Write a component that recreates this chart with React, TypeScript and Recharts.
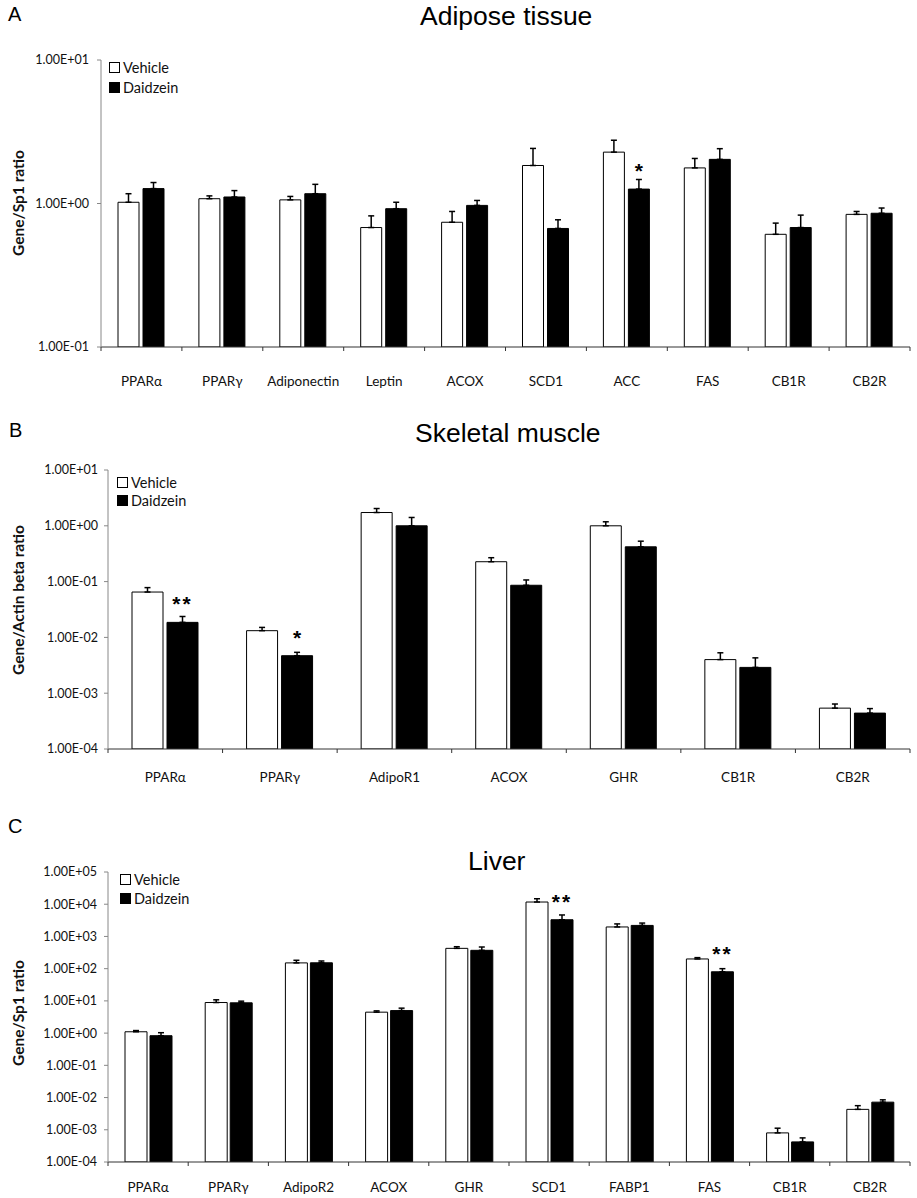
import React from 'react';
import { BarChart, Bar, XAxis, YAxis, ErrorBar, LabelList } from 'recharts';

// Panel A - adipose tissue
const adiposeGenes = ['PPARα', 'PPARγ', 'Adiponectin', 'Leptin', 'ACOX', 'SCD1', 'ACC', 'FAS', 'CB1R', 'CB2R'];
const adiposeVehicle = [1.02, 1.08, 1.06, 0.68, 0.74, 1.84, 2.28, 1.77, 0.61, 0.84];
const adiposeVehicleSem = [0.15, 0.05, 0.06, 0.14, 0.14, 0.58, 0.48, 0.29, 0.12, 0.04];
const adiposeDaidzein = [1.27, 1.11, 1.17, 0.92, 0.97, 0.67, 1.26, 2.03, 0.68, 0.855];
const adiposeDaidzeinSem = [0.13, 0.12, 0.19, 0.1, 0.08, 0.1, 0.21, 0.38, 0.15, 0.075];
const adiposeSig = ['', '', '', '', '', '', '*', '', '', ''];
const adiposeTicks = [0.1, 1, 10];

// Panel B - skeletal muscle
const muscleGenes = ['PPARα', 'PPARγ', 'AdipoR1', 'ACOX', 'GHR', 'CB1R', 'CB2R'];
const muscleVehicle = [0.065, 0.0132, 1.73, 0.227, 1.0, 0.004, 0.00054];
const muscleVehicleSem = [0.013, 0.0019, 0.31, 0.041, 0.18, 0.0013, 0.0001];
const muscleDaidzein = [0.0186, 0.0047, 1.0, 0.086, 0.42, 0.0029, 0.00044];
const muscleDaidzeinSem = [0.0051, 0.0007, 0.41, 0.021, 0.11, 0.0014, 0.00009];
const muscleSig = ['**', '*', '', '', '', '', ''];
const muscleTicks = [0.0001, 0.001, 0.01, 0.1, 1, 10];

// Panel C - liver
const liverGenes = ['PPARα', 'PPARγ', 'AdipoR2', 'ACOX', 'GHR', 'SCD1', 'FABP1', 'FAS', 'CB1R', 'CB2R'];
const liverVehicle = [1.1, 8.9, 151, 4.47, 427, 11700, 1970, 200, 0.0008, 0.0043];
const liverVehicleSem = [0.1, 1.9, 31, 0.43, 53, 3100, 480, 20, 0.00032, 0.0013];
const liverDaidzein = [0.83, 8.7, 152, 5.0, 371, 3300, 2200, 80, 0.00042, 0.0072];
const liverDaidzeinSem = [0.2, 1.1, 21, 0.95, 99, 1340, 400, 20, 0.00014, 0.0013];
const liverSig = ['', '', '', '', '', '**', '', '**', '', ''];
const liverTicks = [0.0001, 0.001, 0.01, 0.1, 1, 10, 100, 1000, 10000, 100000];

const W = 917;
const TICK_FONT = 'Lato, "Open Sans", sans-serif';
const TITLE_FONT = '"Liberation Sans", Arial, sans-serif';

const sci = (v: number) => {
  const e = Math.round(Math.log10(v));
  return `1.00E${e < 0 ? '-' : '+'}${String(Math.abs(e)).padStart(2, '0')}`;
};

const buildRows = (genes: string[], veh: number[], vehSem: number[], dai: number[], daiSem: number[], sig: string[]) =>
  genes.map((g, i) => ({
    gene: g,
    vehicle: veh[i],
    vehicleErr: [0, vehSem[i]],
    daidzein: dai[i],
    daidzeinErr: [0, daiSem[i]],
    sig: sig[i],
  }));

const makeXTick = (n: number, plotW: number, labelDy: number) => (props: any) => {
  const { x, y, payload, index } = props;
  const half = plotW / n / 2;
  return (
    <g>
      {index === 0 && <line x1={x - half} x2={x - half} y1={y} y2={y + 4} stroke="#333" />}
      <line x1={x + half} x2={x + half} y1={y} y2={y + 4} stroke="#333" />
      <text x={x} y={y + labelDy} textAnchor="middle" dominantBaseline="central" fontSize={13.5} fontFamily={TICK_FONT} fill="#111">
        {payload.value}
      </text>
    </g>
  );
};

const StarLabel = (props: any) => {
  const { x, y, width, value } = props;
  if (!value) return null;
  return (
    <text x={x + width / 2} y={y - 11} textAnchor="middle" fontSize={21} fontWeight="bold" fontFamily={TITLE_FONT} letterSpacing={value.length > 1 ? 2 : 0} fill="#000">
      {value}
    </text>
  );
};

interface PanelProps {
  top: number;
  height: number;
  margin: { top: number; right: number; bottom: number; left: number };
  xAxisHeight: number;
  labelDy: number;
  genes: string[];
  rows: any[];
  ticks: number[];
  barSize: number;
  barGap: number;
  yTickMargin: number;
}

function Panel({ top, height, margin, xAxisHeight, labelDy, genes, rows, ticks, barSize, barGap, yTickMargin }: PanelProps) {
  const yAxisW = 60;
  const plotW = W - margin.left - yAxisW - margin.right;
  return (
    <div style={{ position: 'absolute', left: 0, top }}>
      <BarChart width={W} height={height} data={rows} margin={margin} barSize={barSize} barGap={barGap}>
        <XAxis
          dataKey="gene"
          interval={0}
          height={xAxisHeight}
          tickSize={0}
          tickMargin={0}
          axisLine={{ stroke: '#333' }}
          tick={makeXTick(genes.length, plotW, labelDy)}
        />
        <YAxis
          type="number"
          scale="log"
          domain={[ticks[0], ticks[ticks.length - 1]]}
          ticks={ticks}
          allowDataOverflow
          width={yAxisW}
          tickFormatter={sci}
          tickSize={4}
          tickMargin={yTickMargin}
          axisLine={{ stroke: '#888' }}
          tickLine={{ stroke: '#888' }}
          tick={{ fontSize: 12.5, fontFamily: TICK_FONT, fill: '#111' }}
        />
        <Bar dataKey="vehicle" fill="#fff" stroke="#000" strokeWidth={1} isAnimationActive={false}>
          <ErrorBar dataKey="vehicleErr" direction="y" width={3} stroke="#000" strokeWidth={1.5} />
        </Bar>
        <Bar dataKey="daidzein" fill="#000" stroke="#000" strokeWidth={1} isAnimationActive={false}>
          <ErrorBar dataKey="daidzeinErr" direction="y" width={3} stroke="#000" strokeWidth={1.5} />
          <LabelList dataKey="sig" content={StarLabel} />
        </Bar>
      </BarChart>
    </div>
  );
}

function LegendBox({ left, top, gap }: { left: number; top: number; gap: number }) {
  const item = (label: string, fill: string, y: number) => (
    <div style={{ position: 'absolute', left, top: y, display: 'flex', alignItems: 'center', height: 16 }}>
      <div style={{ width: 9, height: 9, border: '1px solid #000', background: fill, marginRight: 3 }} />
      <span style={{ fontFamily: TICK_FONT, fontSize: 14.5, color: '#111' }}>{label}</span>
    </div>
  );
  return (
    <>
      {item('Vehicle', '#fff', top)}
      {item('Daidzein', '#000', top + gap)}
    </>
  );
}

const letterStyle: React.CSSProperties = { position: 'absolute', fontFamily: TITLE_FONT, fontSize: 20, lineHeight: '20px', color: '#000' };
const titleStyle: React.CSSProperties = { position: 'absolute', fontFamily: TITLE_FONT, fontSize: 26.5, lineHeight: '30px', color: '#000', whiteSpace: 'nowrap' };

function YTitle({ text, cx, cy }: { text: string; cx: number; cy: number }) {
  return (
    <div
      style={{
        position: 'absolute',
        left: cx,
        top: cy,
        transform: 'translate(-50%, -50%) rotate(-90deg)',
        fontFamily: TICK_FONT,
        fontWeight: 'bold',
        fontSize: 15.5,
        whiteSpace: 'nowrap',
        color: '#111',
      }}
    >
      {text}
    </div>
  );
}

export default function App() {
  const adiposeRows = buildRows(adiposeGenes, adiposeVehicle, adiposeVehicleSem, adiposeDaidzein, adiposeDaidzeinSem, adiposeSig);
  const muscleRows = buildRows(muscleGenes, muscleVehicle, muscleVehicleSem, muscleDaidzein, muscleDaidzeinSem, muscleSig);
  const liverRows = buildRows(liverGenes, liverVehicle, liverVehicleSem, liverDaidzein, liverDaidzeinSem, liverSig);

  return (
    <div style={{ position: 'absolute', left: 0, top: 0, width: W, height: 1198, background: '#fff', overflow: 'hidden' }}>
      <Panel
        top={0}
        height={400}
        margin={{ top: 60, right: 7, bottom: 13, left: 41 }}
        xAxisHeight={40}
        labelDy={34}
        genes={adiposeGenes}
        rows={adiposeRows}
        ticks={adiposeTicks}
        barSize={21}
        barGap={4}
        yTickMargin={8}
      />
      <Panel
        top={400}
        height={420}
        margin={{ top: 70, right: 7, bottom: 31, left: 48 }}
        xAxisHeight={40}
        labelDy={28}
        genes={muscleGenes}
        rows={muscleRows}
        ticks={muscleTicks}
        barSize={31}
        barGap={4}
        yTickMargin={6}
      />
      <Panel
        top={820}
        height={378}
        margin={{ top: 52, right: 7, bottom: 5, left: 48 }}
        xAxisHeight={31}
        labelDy={25}
        genes={liverGenes}
        rows={liverRows}
        ticks={liverTicks}
        barSize={22}
        barGap={3}
        yTickMargin={7}
      />

      <div style={{ ...letterStyle, left: 8, top: 4 }}>A</div>
      <div style={{ ...letterStyle, left: 9, top: 420 }}>B</div>
      <div style={{ ...letterStyle, left: 8, top: 816 }}>C</div>

      <div style={{ ...titleStyle, left: 420, top: 1 }}>Adipose tissue</div>
      <div style={{ ...titleStyle, left: 415, top: 418 }}>Skeletal muscle</div>
      <div style={{ ...titleStyle, left: 468, top: 846 }}>Liver</div>

      <YTitle text="Gene/Sp1 ratio" cx={18} cy={203} />
      <YTitle text="Gene/Actin beta ratio" cx={18} cy={600} />
      <YTitle text="Gene/Sp1 ratio" cx={18} cy={1013} />

      <LegendBox left={109} top={59} gap={20} />
      <LegendBox left={117} top={474} gap={18} />
      <LegendBox left={120} top={871} gap={19} />
    </div>
  );
}
